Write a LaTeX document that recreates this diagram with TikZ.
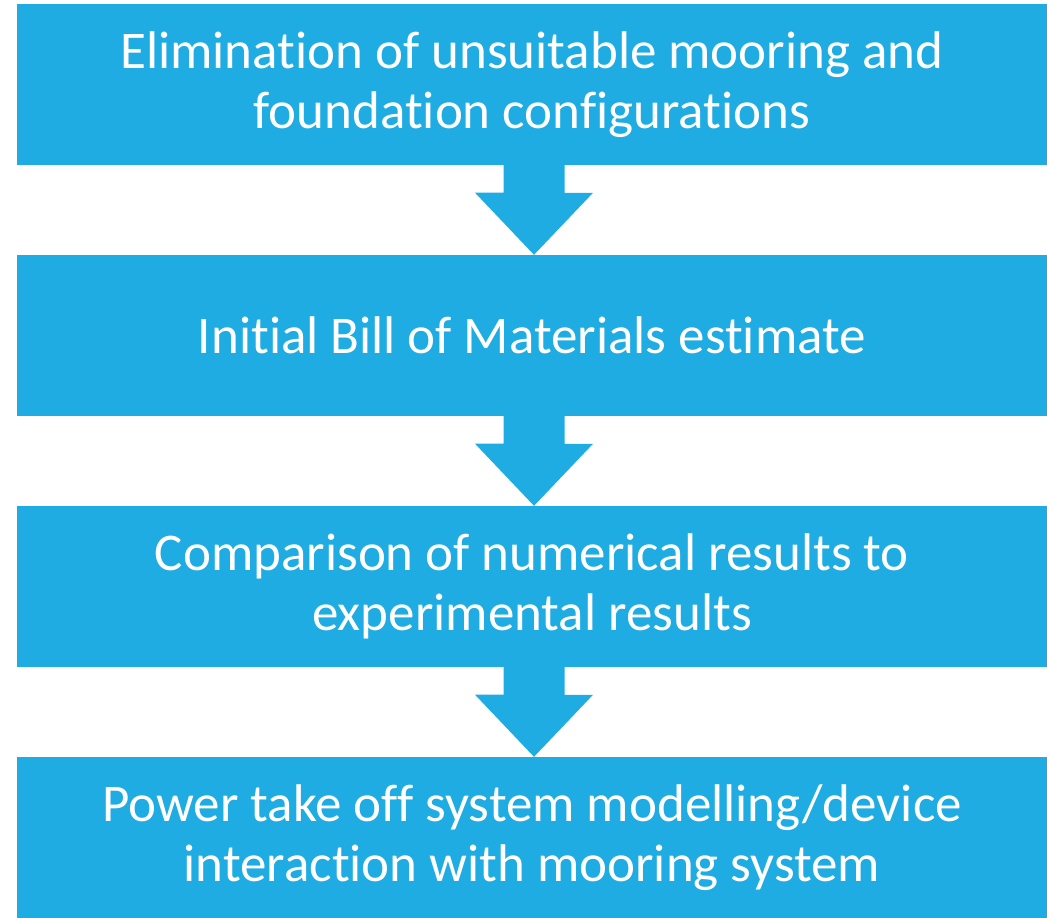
\documentclass[tikz,border=0pt]{standalone}
\usepackage{fontspec}
\setmainfont{Carlito}[Ligatures=NoCommon]
\definecolor{boxblue}{HTML}{1EACE2}
\begin{document}
\begin{tikzpicture}[x=1pt,y=-1pt,
  stepbox/.style={fill=boxblue,draw=none,minimum width=1030pt,minimum height=161pt,
    inner sep=0pt,text=white,align=center,font=\fontsize{53}{60}\selectfont},
  flowarrow/.style={fill=boxblue,draw=none}]
\useasboundingbox (0,0) rectangle (1047,918);
\node[stepbox] (b1) at (532,84.5) {Elimination of unsuitable mooring and\\foundation configurations};
\node[stepbox] (b2) at (532,335.5) {Initial Bill of Materials estimate};
\node[stepbox] (b3) at (532,586.5) {Comparison of numerical results to\\experimental results};
\node[stepbox] (b4) at (532,837.5) {Power take off system modelling/device\\interaction with mooring system};
\foreach \a/\b in {b1/b2,b2/b3,b3/b4}{
  \fill[flowarrow] ([xshift=-28.5pt,yshift=0.5pt]\a.south) -- ++(0,28) -- ++(-28.5,0)
    -- ([xshift=2pt]\b.north) -- ++(59,-62) -- ++(-28.5,0) -- ++(0,-28.5) -- cycle;
}
\end{tikzpicture}
\end{document}
